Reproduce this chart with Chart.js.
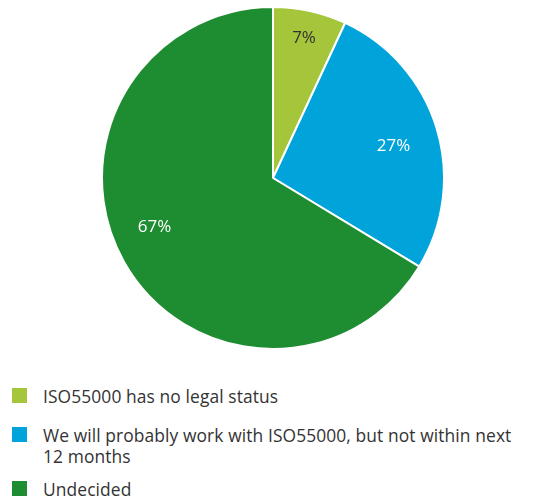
<!DOCTYPE html>
<html>
<head>
<meta charset="utf-8">
<script src="https://cdn.jsdelivr.net/npm/chart.js@4"></script>
<style>
  html, body { margin: 0; padding: 0; background: #fff; }
  body { width: 540px; height: 504px; position: relative; overflow: hidden; font-family: "Open Sans", sans-serif; color: #333; }
  #pie-wrap { position: absolute; left: 101px; top: 6px; width: 344px; height: 344px; }
  #legend { position: absolute; left: 12px; top: 386px; width: 528px; }
  .item { display: flex; align-items: flex-start; margin-bottom: 18px; }
  .item:nth-child(2) { margin-bottom: 12px; }
  .box { width: 15px; height: 15px; flex: none; margin-top: 2px; margin-right: 16px; }
  .txt { font-size: 17.4px; line-height: 21px; letter-spacing: 0.1px; }
</style>
</head>
<body>
<div id="pie-wrap"><canvas id="pie-chart"></canvas></div>
<div id="legend"></div>
<script>
const categories = [
  'ISO55000 has no legal status',
  'We will probably work with ISO55000, but not within next\n12 months',
  'Undecided'
];
const shares = [7, 27, 67];
const valueLabels = ['7%', '27%', '67%'];
const sliceColors = ['#a5c53a', '#00a3da', '#1e8c31'];

const labelColors = ['#333333', '#ffffff', '#ffffff'];
const labelRadius = [0.84, 0.73, 0.75];
const labelShift = [0, 2, 7]; // degrees, nudges label along the arc

const sliceLabels = {
  id: 'sliceLabels',
  afterDatasetsDraw(chart) {
    const ctx = chart.ctx;
    const arcs = chart.getDatasetMeta(0).data;
    ctx.save();
    ctx.font = '17px "Open Sans", sans-serif';
    ctx.textAlign = 'center';
    ctx.textBaseline = 'middle';
    arcs.forEach((arc, i) => {
      const { x, y, startAngle, endAngle, outerRadius } = arc.getProps(['x', 'y', 'startAngle', 'endAngle', 'outerRadius']);
      const mid = (startAngle + endAngle) / 2 + labelShift[i] * Math.PI / 180;
      const r = outerRadius * labelRadius[i];
      ctx.fillStyle = labelColors[i];
      ctx.fillText(valueLabels[i], x + Math.cos(mid) * r, y + Math.sin(mid) * r);
    });
    ctx.restore();
  }
};

new Chart(document.getElementById('pie-chart'), {
  type: 'pie',
  data: {
    labels: categories,
    datasets: [{
      data: shares,
      backgroundColor: sliceColors,
      borderColor: '#ffffff',
      borderWidth: 2,
      hoverOffset: 0
    }]
  },
  options: {
    responsive: true,
    maintainAspectRatio: false,
    animation: false,
    layout: { padding: 0 },
    plugins: {
      legend: { display: false },
      tooltip: { enabled: false }
    }
  },
  plugins: [sliceLabels]
});

// html legend, built from the same arrays
const legend = document.getElementById('legend');
categories.forEach((name, i) => {
  const row = document.createElement('div');
  row.className = 'item';
  const box = document.createElement('div');
  box.className = 'box';
  box.style.background = sliceColors[i];
  const txt = document.createElement('div');
  txt.className = 'txt';
  txt.innerHTML = name.replace('\n', '<br>');
  row.appendChild(box);
  row.appendChild(txt);
  legend.appendChild(row);
});
</script>
</body>
</html>
